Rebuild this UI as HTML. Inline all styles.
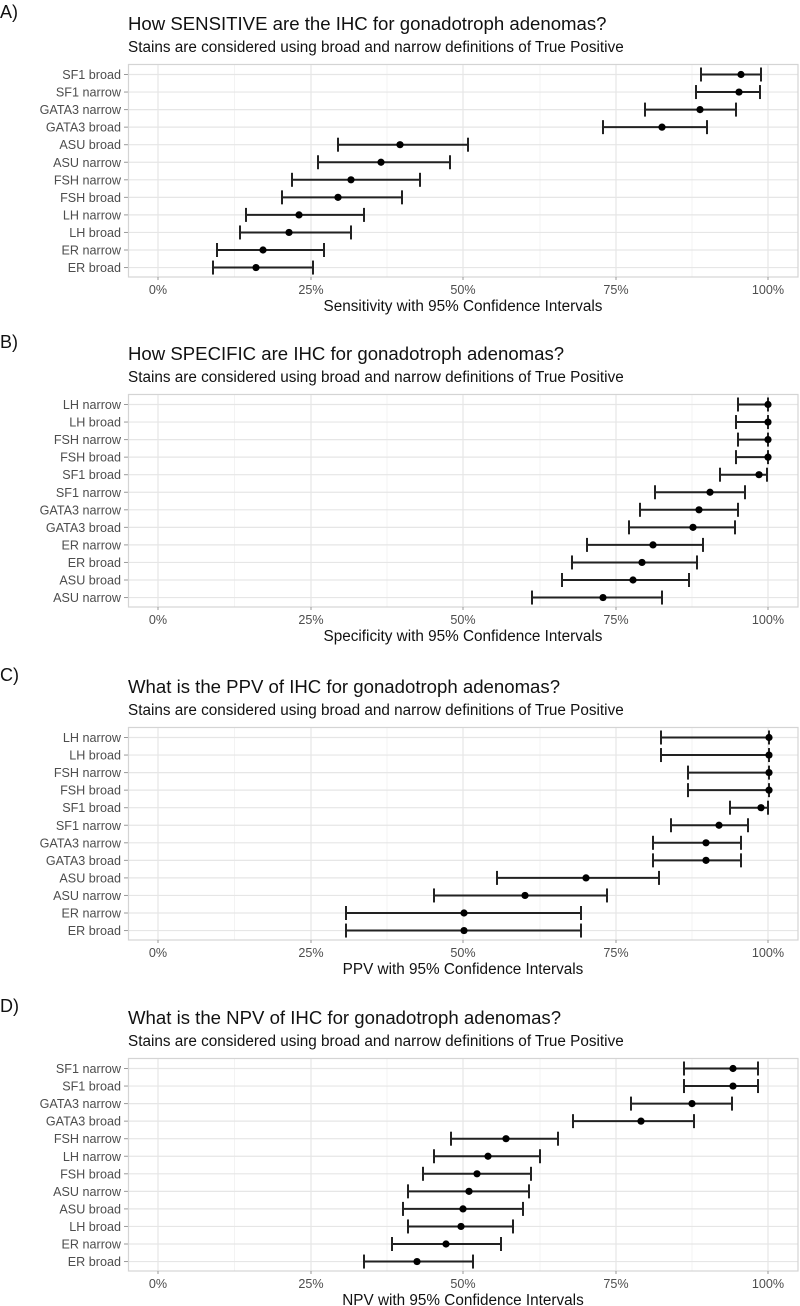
<!DOCTYPE html>
<html><head><meta charset="utf-8"><style>
html,body{margin:0;padding:0;background:#fff;}
svg{display:block;}
</style></head><body>
<svg id="s" width="800" height="1306" xmlns="http://www.w3.org/2000/svg" font-family="Liberation Sans, Arial, sans-serif"></svg>
<script>
var panels=[
{L:"A)",T:"How SENSITIVE are the IHC for gonadotroph adenomas?",X:"Sensitivity with 95% Confidence Intervals",top:64,rows:[
["SF1 broad",701,741,761],["SF1 narrow",696,739,760],["GATA3 narrow",645,700,736],["GATA3 broad",603,662,707],
["ASU broad",338,400,468],["ASU narrow",318,381,450],["FSH narrow",292,351,420],["FSH broad",282,338,402],
["LH narrow",246,299,364],["LH broad",240,289,351],["ER narrow",217,263,324],["ER broad",213,256,313]]},
{L:"B)",T:"How SPECIFIC are IHC for gonadotroph adenomas?",X:"Specificity with 95% Confidence Intervals",top:394,rows:[
["LH narrow",738,768,768],["LH broad",736,768,768],["FSH narrow",738,768,768],["FSH broad",736,768,768],
["SF1 broad",720,759,767],["SF1 narrow",655,710,745],["GATA3 narrow",640,699,738],["GATA3 broad",629,693,735],
["ER narrow",587,653,703],["ER broad",572,642,697],["ASU broad",562,633,689],["ASU narrow",532,603,662]]},
{L:"C)",T:"What is the PPV of IHC for gonadotroph adenomas?",X:"PPV with 95% Confidence Intervals",top:727,rows:[
["LH narrow",661,769,769],["LH broad",661,769,769],["FSH narrow",688,769,769],["FSH broad",688,769,769],
["SF1 broad",730,761,768],["SF1 narrow",671,719,748],["GATA3 narrow",653,706,741],["GATA3 broad",653,706,741],
["ASU broad",497,586,659],["ASU narrow",434,525,607],["ER narrow",346,464,581],["ER broad",346,464,581]]},
{L:"D)",T:"What is the NPV of IHC for gonadotroph adenomas?",X:"NPV with 95% Confidence Intervals",top:1058,rows:[
["SF1 narrow",684,733,758],["SF1 broad",684,733,758],["GATA3 narrow",631,692,732],["GATA3 broad",573,641,694],
["FSH narrow",451,506,558],["LH narrow",434,488,540],["FSH broad",423,477,531],["ASU narrow",408,469,529],
["ASU broad",403,463,523],["LH broad",408,461,513],["ER narrow",392,446,501],["ER broad",364,417,473]]}
];
var h='';
panels.forEach(function(p){
 var t=p.top,b=t+213;
 h+='<text x="0" y="'+(t-46)+'" font-size="18" fill="#111">'+p.L+'</text>';
 h+='<text x="128" y="'+(t-34)+'" font-size="18.6" fill="#111">'+p.T+'</text>';
 h+='<text x="128" y="'+(t-12)+'" font-size="15.3" fill="#111">Stains are considered using broad and narrow definitions of True Positive</text>';
 [234.5,387,540,692].forEach(function(x){h+='<line x1="'+x+'" y1="'+t+'" x2="'+x+'" y2="'+b+'" stroke="#f3f3f3" stroke-width="1"/>';});
 [158,311,463,616,768].forEach(function(x){h+='<line x1="'+x+'" y1="'+t+'" x2="'+x+'" y2="'+b+'" stroke="#e6e6e6" stroke-width="1.2"/>';});
 p.rows.forEach(function(r,i){var y=t+10.5+i*17.55;
  h+='<line x1="128" y1="'+y+'" x2="798" y2="'+y+'" stroke="#e6e6e6" stroke-width="1.2"/>';
  h+='<line x1="124" y1="'+y+'" x2="128" y2="'+y+'" stroke="#999" stroke-width="1"/>';
  h+='<text x="121" y="'+(y+4.5)+'" font-size="12.6" fill="#4d4d4d" text-anchor="end">'+r[0]+'</text>';
 });
 h+='<rect x="128.5" y="'+(t+0.5)+'" width="669.5" height="212.5" fill="none" stroke="#d4d4d4" stroke-width="1.2"/>';
 p.rows.forEach(function(r,i){var y=t+10.5+i*17.55;
  h+='<line x1="'+r[1]+'" y1="'+y+'" x2="'+r[3]+'" y2="'+y+'" stroke="#222" stroke-width="2"/>';
  h+='<line x1="'+r[1]+'" y1="'+(y-7)+'" x2="'+r[1]+'" y2="'+(y+7)+'" stroke="#222" stroke-width="2"/>';
  h+='<line x1="'+r[3]+'" y1="'+(y-7)+'" x2="'+r[3]+'" y2="'+(y+7)+'" stroke="#222" stroke-width="2"/>';
  h+='<circle cx="'+r[2]+'" cy="'+y+'" r="3.6" fill="#000"/>';
 });
 ["0%","25%","50%","75%","100%"].forEach(function(s,k){var x=[158,311,463,616,768][k];
  h+='<line x1="'+x+'" y1="'+b+'" x2="'+x+'" y2="'+(b+3)+'" stroke="#999"/>';
  h+='<text x="'+x+'" y="'+(b+17)+'" font-size="12.6" fill="#4d4d4d" text-anchor="middle">'+s+'</text>';});
 h+='<text x="463" y="'+(b+34)+'" font-size="15.3" fill="#111" text-anchor="middle">'+p.X+'</text>';
});
document.getElementById('s').innerHTML=h;
</script>
</body></html>
